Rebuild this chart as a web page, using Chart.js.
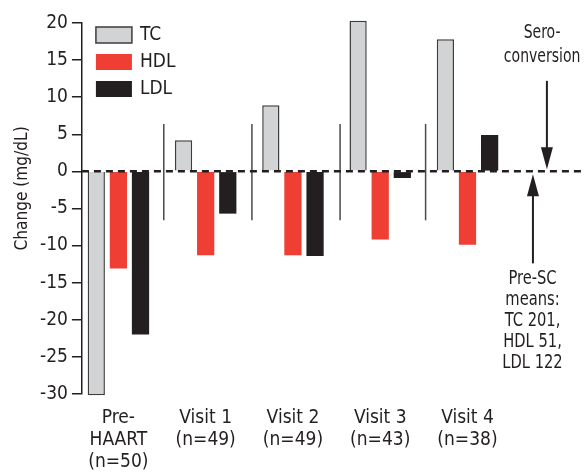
<!DOCTYPE html>
<html>
<head>
<meta charset="utf-8">
<script src="https://cdn.jsdelivr.net/npm/chart.js@4.4.0/dist/chart.umd.min.js"></script>
<style>
  html, body { margin: 0; padding: 0; background: #fff; }
  #wrap { width: 584px; height: 474px; }
</style>
</head>
<body>
<div id="wrap"><canvas id="myChart"></canvas></div>
<script>
const groups = [['Pre-', 'HAART', '(n=50)'], ['Visit 1', '(n=49)'], ['Visit 2', '(n=49)'], ['Visit 3', '(n=43)'], ['Visit 4', '(n=38)']];
const tc  = [-30.2, 4.2, 8.9, 20.3, 17.8];
const hdl = [-13.1, -11.3, -11.3, -9.2, -9.9];
const ldl = [-22.0, -5.7, -11.4, -0.9, 4.9];
const yTicks = [-30, -25, -20, -15, -10, -5, 0, 5, 10, 15, 20];
const yTitle = 'Change (mg/dL)';
const seroText = ['Sero-', 'conversion'];
const preScText = ['Pre-SC', 'means:', 'TC 201,', 'HDL 51,', 'LDL 122'];

const FONT = "'DejaVu Sans Condensed', 'Liberation Sans', sans-serif";
const INK = '#231f20';

const toPoints = arr => arr.map((v, i) => ({ x: i, y: v }));

function arrow(ctx, x, yFrom, yTo) {
  const dir = yTo > yFrom ? 1 : -1;
  ctx.beginPath();
  ctx.moveTo(x, yFrom);
  ctx.lineTo(x, yTo - dir * 18);
  ctx.stroke();
  ctx.beginPath();
  ctx.moveTo(x, yTo);
  ctx.lineTo(x - 6, yTo - dir * 22);
  ctx.lineTo(x + 6, yTo - dir * 22);
  ctx.closePath();
  ctx.fill();
}

// narrow text, closer to the condensed face of the original
function narrowText(ctx, t, x, y, sx) {
  ctx.save();
  ctx.scale(sx, 1);
  ctx.fillText(t, x / sx, y);
  ctx.restore();
}

const extras = {
  id: 'extras',
  afterDatasetsDraw(chart) {
    const { ctx, chartArea, scales: { x, y } } = chart;
    const y0 = y.getPixelForValue(0);
    ctx.save();

    // separators between groups
    ctx.strokeStyle = '#4a4a4a';
    ctx.lineWidth = 1.5;
    [0.52, 1.53, 2.54, 3.52].forEach(v => {
      const px = x.getPixelForValue(v);
      ctx.beginPath();
      ctx.moveTo(px, y.getPixelForValue(6.4));
      ctx.lineTo(px, y.getPixelForValue(-6.6));
      ctx.stroke();
    });

    // dashed zero line
    ctx.setLineDash([7, 5]);
    ctx.lineWidth = 2.5;
    ctx.strokeStyle = INK;
    ctx.beginPath();
    ctx.moveTo(chartArea.left, y0);
    ctx.lineTo(chart.width, y0);
    ctx.stroke();
    ctx.setLineDash([]);

    // arrows
    ctx.lineWidth = 2;
    ctx.fillStyle = INK;
    arrow(ctx, x.getPixelForValue(4.91), y.getPixelForValue(12.2), y0 - 2);
    arrow(ctx, x.getPixelForValue(4.75), y.getPixelForValue(-12.4), y0 + 3);

    // annotation text
    ctx.font = '19px ' + FONT;
    ctx.textAlign = 'center';
    ctx.textBaseline = 'middle';
    const sx = x.getPixelForValue(4.855);
    seroText.forEach((t, i) => narrowText(ctx, t, sx, 33 + i * 24, 0.82));
    const px = x.getPixelForValue(4.745);
    preScText.forEach((t, i) => narrowText(ctx, t, px, 279 + i * 21, 0.86));

    // y axis title
    ctx.save();
    ctx.translate(22, y.getPixelForValue(-2.3));
    ctx.rotate(-Math.PI / 2);
    ctx.font = '18px ' + FONT;
    narrowText(ctx, yTitle, 0, 0, 0.95);
    ctx.restore();

    // legend
    ctx.textAlign = 'left';
    chart.data.datasets.forEach((ds, i) => {
      const bx = chartArea.left + 14;
      const by = chartArea.top + 4 + i * 27;
      ctx.fillStyle = ds.backgroundColor;
      ctx.fillRect(bx, by, 36, 16);
      if (ds.borderWidth) {
        ctx.strokeStyle = ds.borderColor;
        ctx.lineWidth = 1.5;
        ctx.strokeRect(bx, by, 36, 16);
      }
      ctx.fillStyle = INK;
      ctx.fillText(ds.label, bx + 44, by + 8);
    });
    ctx.restore();
  }
};

new Chart(document.getElementById('myChart'), {
  type: 'bar',
  data: {
    datasets: [
      { label: 'TC', data: toPoints(tc), backgroundColor: '#d1d3d4', borderColor: '#3d3d3d', borderWidth: 1.5, clip: false },
      { label: 'HDL', data: toPoints(hdl), backgroundColor: '#ef3e33', borderWidth: 0, clip: false },
      { label: 'LDL', data: toPoints(ldl), backgroundColor: INK, borderWidth: 0, clip: false }
    ]
  },
  options: {
    responsive: true,
    maintainAspectRatio: false,
    animation: false,
    categoryPercentage: 0.76,
    barPercentage: 0.78,
    layout: { padding: { top: 23, right: 0, bottom: -4, left: 36 } },
    plugins: { legend: { display: false }, tooltip: { enabled: false } },
    scales: {
      x: {
        type: 'linear',
        offset: false,
        min: -0.418,
        max: 5.335,
        afterBuildTicks: scale => { scale.ticks = groups.map((g, i) => ({ value: i })); },
        grid: { display: false },
        border: { display: false },
        ticks: {
          autoSkip: false,
          maxRotation: 0,
          padding: 5,
          color: INK,
          font: { family: FONT, size: 19, lineHeight: 1.16 },
          callback: v => groups[v] || ''
        }
      },
      y: {
        min: -30,
        max: 20,
        afterBuildTicks: scale => { scale.ticks = yTicks.map(v => ({ value: v })); },
        grid: { drawOnChartArea: false, drawTicks: true, tickLength: 10, color: INK, lineWidth: 1.5 },
        border: { color: INK, width: 1.5 },
        ticks: { padding: 4, color: INK, font: { family: FONT, size: 19 } }
      }
    }
  },
  plugins: [extras]
});
</script>
</body>
</html>
